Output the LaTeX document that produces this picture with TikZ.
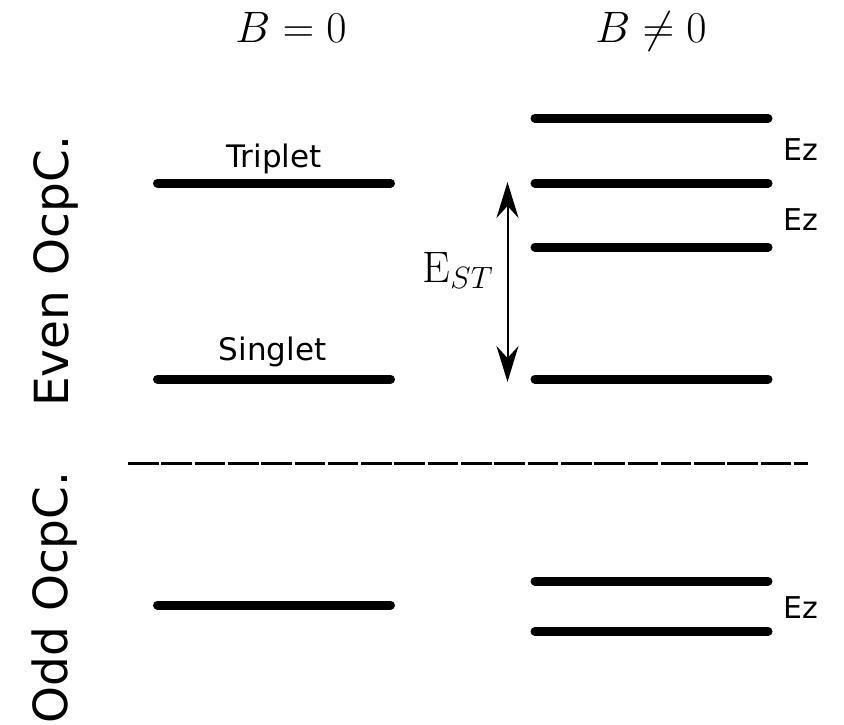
\RequirePackage{fix-cm}
\documentclass[tikz,border=0pt]{standalone}
\usepackage{fontspec}
\setsansfont{DejaVu Sans}
\usetikzlibrary{arrows.meta}
\begin{document}
\begin{tikzpicture}[x=1pt,y=-1pt,
  level/.style={line width=9pt,line cap=round,black},
  lbl/.style={font=\sffamily\fontsize{31}{37}\selectfont,inner sep=0pt,anchor=base},
  ez/.style={font=\sffamily\fontsize{30}{36}\selectfont,inner sep=0pt,anchor=base west},
  side/.style={font=\sffamily\fontsize{47}{56}\selectfont,inner sep=0pt,anchor=base,rotate=90},
  head/.style={font=\fontsize{44}{52}\selectfont,inner sep=0pt,anchor=base},
  sep/.style={line width=3pt,dash pattern=on 30.6pt off 2.7pt}]
\useasboundingbox (0,0) rectangle (844,724);
% headers
\node[head] (h0) at (291,42) {$B=0$};
\node[head] (h1) at (651,42) {$B\neq0$};
% side labels
\node[side] (even) at (68,271) {Even OcpC.};
\node[side] (odd) at (67,597.5) {Odd OcpC.};
% left levels
\coordinate (tl) at (157.5,183); \coordinate (tr) at (390.5,183);
\coordinate (sl) at (157.5,379); \coordinate (sr) at (390.5,379);
\coordinate (ol) at (157.5,605); \coordinate (or) at (390.5,605);
\draw[level] (tl) -- (tr);
\draw[level] (sl) -- (sr);
\draw[level] (ol) -- (or);
\node[lbl] (trip) at (274,167) {Triplet};
\node[lbl] (sing) at (272.5,360) {Singlet};
% right levels
\coordinate (r1l) at (535,118); \coordinate (r1r) at (768,118);
\coordinate (r2l) at (535,183); \coordinate (r2r) at (768,183);
\coordinate (r3l) at (535,247); \coordinate (r3r) at (768,247);
\coordinate (r4l) at (535,379); \coordinate (r4r) at (768,379);
\coordinate (r5l) at (535,581); \coordinate (r5r) at (768,581);
\coordinate (r6l) at (535,631.5); \coordinate (r6r) at (768,631.5);
\foreach \i in {1,...,6} {\draw[level] (r\i l) -- (r\i r);}
\node[ez] (ez1) at (783,160) {Ez};
\node[ez] (ez2) at (783,230) {Ez};
\node[ez] (ez3) at (783,618) {Ez};
% E_ST arrow
\coordinate (at) at (507.5,182);
\coordinate (ab) at (507.5,382);
\draw[line width=2pt,{Stealth[length=36pt,width=22pt,inset=12pt]}-{Stealth[length=36pt,width=22pt,inset=12pt]}] (at) -- (ab);
\node[head] (est) at (458,282) {$\mathrm{E}_{ST}$};
% separator
\coordinate (dl) at (128,463); \coordinate (dr) at (808,463);
\draw[sep] (dl) -- (dr);
\end{tikzpicture}
\end{document}
